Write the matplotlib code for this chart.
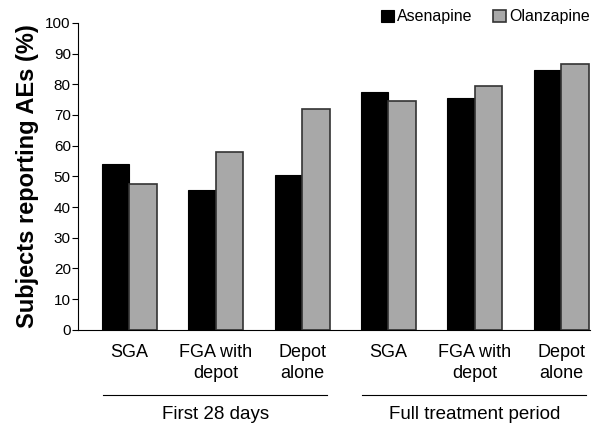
import matplotlib.pyplot as plt
import numpy as np

categories = ["SGA", "FGA with\ndepot", "Depot\nalone", "SGA", "FGA with\ndepot", "Depot\nalone"]
asenapine = [54, 45.5, 50.5, 77.5, 75.5, 84.5]
olanzapine = [47.5, 58, 72, 74.5, 79.5, 86.5]
periods = ["First 28 days", "Full treatment period"]

plt.rcParams['font.family'] = ['Liberation Sans', 'DejaVu Sans']

fig = plt.figure(figsize=(6.03, 4.24), dpi=100)
ax = fig.add_axes([0.129, 0.222, 0.849, 0.724])

x = np.arange(len(categories))
w = 0.318
ax.bar(x - w / 2, asenapine, w, color='black', edgecolor='black', linewidth=0.8, label='Asenapine')
ax.bar(x + w / 2, olanzapine, w, color='#a8a8a8', edgecolor='#333333', linewidth=1.2, label='Olanzapine')

ax.set_xlim(-0.596, 5.33)
ax.set_ylim(0, 100)
ax.set_yticks(range(0, 101, 10))
ax.tick_params(axis='y', labelsize=11, length=4, width=0.8, direction='out', pad=1)
ax.set_xticks(x)
ax.set_xticklabels(categories, fontsize=13, linespacing=1.3)
ax.tick_params(axis='x', length=0, pad=10)
ax.set_ylabel("Subjects reporting AEs (%)", fontsize=17, fontweight='bold')
ax.yaxis.set_label_coords(-0.076, 0.5)

for s in ['top', 'right']:
    ax.spines[s].set_visible(False)
ax.spines['left'].set_linewidth(0.8)
ax.spines['bottom'].set_linewidth(0.8)

# period brackets under the category labels
trans = ax.get_xaxis_transform()
for k, name in enumerate(periods):
    a, b = 3 * k, 3 * k + 2
    ax.plot([a - 0.305, b + 0.29], [-0.211, -0.211], color='black', lw=0.8,
            transform=trans, clip_on=False)
    ax.text((a + b) / 2, -0.275, name, transform=trans, ha='center', va='center', fontsize=13.5)

ax.legend(loc='upper right', bbox_to_anchor=(1.013, 1.065), ncol=2, frameon=False,
          fontsize=11.5, handlelength=0.8, handleheight=0.8, handletextpad=0.2,
          columnspacing=1.3, borderaxespad=0)

fig.savefig("out.png", dpi=100)
